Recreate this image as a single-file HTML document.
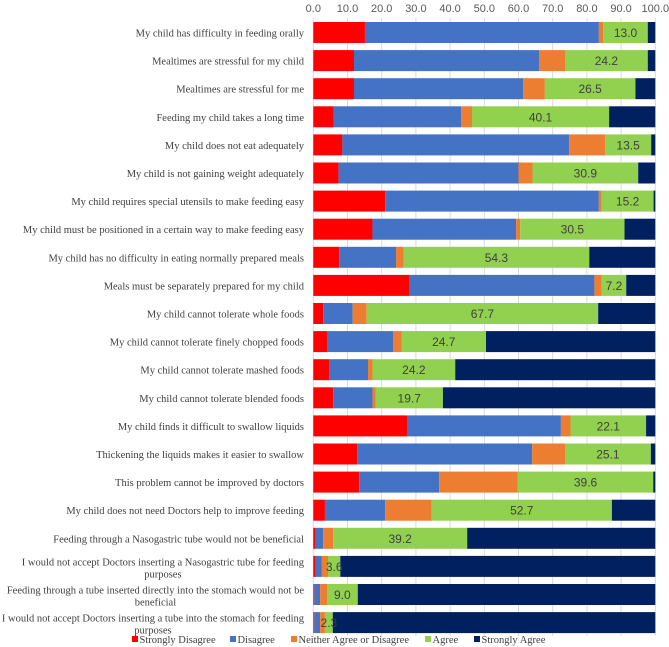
<!DOCTYPE html>
<html><head><meta charset="utf-8"><style>
body{margin:0;background:#fff}
svg{display:block}
</style></head><body>
<svg id="chart" width="669" height="647" xmlns="http://www.w3.org/2000/svg"></svg>
<script>
const categories=["My child has difficulty in feeding orally","Mealtimes are stressful for my child","Mealtimes are stressful  for me","Feeding my child takes a long time","My child does not eat adequately","My child is not gaining weight adequately","My child requires special utensils to make feeding easy","My child must be positioned in a certain way to make feeding easy","My child has no difficulty in eating normally prepared meals","Meals must be separately prepared for my child","My child cannot tolerate whole foods","My child cannot tolerate finely chopped foods","My child cannot tolerate mashed foods","My child cannot tolerate blended foods","My child finds it difficult to swallow liquids","Thickening the liquids makes it easier to swallow","This problem cannot be improved by doctors","My child does not need Doctors help to improve feeding","Feeding through a Nasogastric tube would not be beneficial","I would not accept Doctors inserting a Nasogastric tube for feeding|purposes","Feeding through a tube inserted directly into the stomach would not be|beneficial","I would not accept Doctors inserting a tube into the stomach for feeding|purposes"];
const stronglyDisagree=[15.1,11.9,11.9,6.0,8.5,7.4,21.0,17.3,7.6,28.2,2.9,4.0,4.7,5.8,27.4,12.8,13.4,3.4,0.7,0.7,0.3,0.3];
const disagree=[68.4,54.1,49.5,37.2,66.3,52.6,62.5,42.0,16.6,54.0,8.6,19.3,11.3,11.5,45.0,51.2,23.4,17.6,2.2,1.7,1.7,1.7];
const neither=[1.3,7.6,6.3,3.2,10.5,4.1,0.8,1.2,2.2,2.1,4.1,2.5,1.3,0.9,2.8,9.6,23.0,13.6,2.9,1.9,2.0,1.4];
const agree=[13.0,24.2,26.5,40.1,13.5,30.9,15.2,30.5,54.3,7.2,67.7,24.7,24.2,19.7,22.1,25.1,39.6,52.7,39.2,3.6,9.0,2.3];
const stronglyAgree=[2.2,2.2,5.8,13.5,1.2,5.0,0.5,9.0,19.3,8.5,16.7,49.5,58.5,62.1,2.7,1.3,0.6,12.7,55.0,92.1,87.0,94.3];
const tickLabels=["0.0","10.0","20.0","30.0","40.0","50.0","60.0","70.0","80.0","90.0","100.0"];
const seriesNames=["Strongly Disagree","Disagree","Neither Agree or Disagree","Agree","Strongly Agree"];
const colors=["#FF0000","#4472C4","#ED7D31","#92D050","#002060"];
const series=[stronglyDisagree,disagree,neither,agree,stronglyAgree];
const NS="http://www.w3.org/2000/svg";
const svg=document.getElementById('chart');
const X0=313.3,X1=655.3,Y0=22,STEP=28.1,BH=21,FS='10.5';
const x=v=>X0+(X1-X0)*v/100;
const yTop=i=>Y0+i*STEP;
function mk(t,a,p){const e=document.createElementNS(NS,t);for(const k in a)e.setAttribute(k,a[k]);(p||svg).appendChild(e);return e;}
tickLabels.forEach((t,i)=>{
  const v=i*10;
  const g=mk('line',{x1:x(v),x2:x(v),y1:18,y2:636,stroke:'#d9d9d9','stroke-width':1});
  
  
  const tx=mk('text',{x:x(v),y:12,'text-anchor':'middle','font-family':'Liberation Sans, sans-serif','font-size':'11','fill':'#595959'});
  tx.textContent=t;
  
  
});
categories.forEach((c,i)=>{
  let cum=0;
  series.forEach((s,k)=>{
    const r=mk('rect',{x:x(cum),y:yTop(i),width:Math.max(0,x(cum+s[i])-x(cum)),height:BH,fill:colors[k]});
    
    
    cum+=s[i];
  });
  const st=stronglyDisagree[i]+disagree[i]+neither[i];
  const vl=mk('text',{x:x(st+agree[i]/2),y:yTop(i)+BH/2+4.5,'text-anchor':'middle','font-family':'Liberation Sans, sans-serif','font-size':'12','fill':'#404040'});
  vl.textContent=agree[i].toFixed(1);
  
  
  const lines=c.split('|');
  const cy=yTop(i)+BH/2;
  if(lines.length===1){
    const t=mk('text',{x:304,y:cy+4,'text-anchor':'end','font-family':'Liberation Serif, serif','font-size':FS,'fill':'#404040'});
    t.textContent=c;
    
    
  }else{
    const t1=mk('text',{x:304,y:cy-1,'text-anchor':'end','font-family':'Liberation Serif, serif','font-size':FS,'fill':'#404040'});
    t1.textContent=lines[0];
    
    
    const w=t1.getComputedTextLength();
    const t2=mk('text',{x:304-w/2,y:cy+11,'text-anchor':'middle','font-family':'Liberation Serif, serif','font-size':FS,'fill':'#404040'});
    t2.textContent=lines[1];
    
    
  }
});
const legX=[132,230,291,425,474];
seriesNames.forEach((n,k)=>{
  const g=mk('g',{});
  
  
  mk('rect',{x:legX[k],y:636,width:6,height:6,fill:colors[k]},g);
  const t=mk('text',{x:legX[k]+7.5,y:643,'font-family':'Liberation Serif, serif','font-size':FS,'fill':'#404040'},g);
  t.textContent=n;
});
</script>
</body></html>
